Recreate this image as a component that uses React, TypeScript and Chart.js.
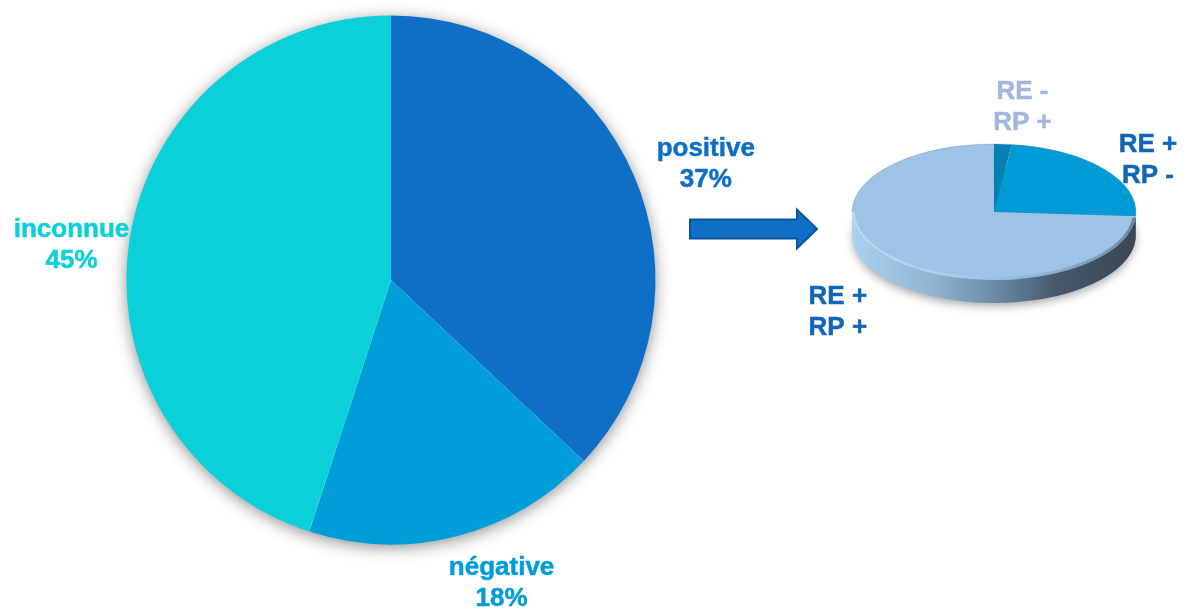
import React, { useEffect, useRef } from "react";
import { Chart, registerables } from "chart.js";

Chart.register(...registerables);

// ---- data ----
const mainCategories = ["positive", "négative", "inconnue"];
const mainValues = [37, 18, 45];
const mainColors = ["#0F6FC6", "#009DD9", "#0BD0D9"];

const subCategories = [["RE -", "RP +"], ["RE +", "RP -"], ["RE +", "RP +"]];
const subValues = [2, 24, 74];
const subColors = ["#0580B2", "#009AD6", "#9DC3E6"];
const subLabelColors = ["#A4B6E0", "#1266B8", "#1266B8"];

const FONT = 'bold 26px "Liberation Sans", Arial, sans-serif';
const LINE_H = 31;

// label anchors relative to the pie centre, in units of the radius
const mainLabelOffsets = [
  [1.19, -0.445],
  [0.418, 1.138],
  [-1.208, -0.139],
];
const subLabelOffsets = [
  [0.2, -0.755],
  [1.084, -0.38],
  [-1.1, 0.69],
];

const labelPlugin = {
  id: "blockLabels",
  afterDraw(chart: any, _args: any, opts: any) {
    const arcs = chart.getDatasetMeta(0).data;
    if (!arcs.length) return;
    const p = arcs[0].getProps(["x", "y", "outerRadius"], true);
    const ctx = chart.ctx;
    ctx.save();
    ctx.font = FONT;
    ctx.textAlign = "center";
    ctx.textBaseline = "alphabetic";
    opts.items.forEach((it: any) => {
      const ax = p.x + it.off[0] * p.outerRadius;
      const ay = p.y + it.off[1] * p.outerRadius;
      ctx.fillStyle = it.color;
      ctx.strokeStyle = it.color;
      ctx.lineWidth = 0.5;
      const n = it.lines.length;
      it.lines.forEach((ln: string, i: number) => {
        const y = ay + (i - (n - 1) / 2) * LINE_H + 9.3;
        ctx.fillText(ln, ax, y);
        ctx.strokeText(ln, ax, y);
      });
    });
    ctx.restore();
  },
};

const shadowPlugin = {
  id: "pieShadow",
  beforeDatasetsDraw(chart: any) {
    const arcs = chart.getDatasetMeta(0).data;
    if (!arcs.length) return;
    const p = arcs[0].getProps(["x", "y", "outerRadius"], true);
    const ctx = chart.ctx;
    ctx.save();
    ctx.shadowColor = "rgba(0,0,0,0.45)";
    ctx.shadowBlur = 16;
    ctx.shadowOffsetY = 3;
    ctx.beginPath();
    ctx.arc(p.x, p.y, p.outerRadius - 0.5, 0, Math.PI * 2);
    ctx.fillStyle = "#ffffff";
    ctx.fill();
    ctx.restore();
  },
};

const arrowPlugin = {
  id: "arrow",
  afterDraw(chart: any) {
    const ctx = chart.ctx;
    ctx.save();
    ctx.beginPath();
    ctx.moveTo(690, 219.5);
    ctx.lineTo(797, 219.5);
    ctx.lineTo(797, 209.5);
    ctx.lineTo(817, 229);
    ctx.lineTo(797, 248.5);
    ctx.lineTo(797, 238.5);
    ctx.lineTo(690, 238.5);
    ctx.closePath();
    ctx.fillStyle = "#0F6FC6";
    ctx.fill();
    ctx.lineWidth = 2;
    ctx.strokeStyle = "#0B539A";
    ctx.stroke();
    ctx.restore();
  },
};

const pie3dPlugin = {
  id: "pie3d",
  beforeDatasetsDraw(chart: any, _args: any, opts: any) {
    const arcs = chart.getDatasetMeta(0).data;
    if (!arcs.length) return;
    const p = arcs[0].getProps(["x", "y", "outerRadius"], true);
    const cx = p.x, cy = p.y, r = p.outerRadius;
    const ry = r * opts.tilt;
    const T = opts.depth;
    const ctx = chart.ctx;
    // soft shadow under the disc
    ctx.save();
    ctx.shadowColor = "rgba(0,0,0,0.35)";
    ctx.shadowBlur = 10;
    ctx.shadowOffsetY = 4;
    ctx.beginPath();
    ctx.ellipse(cx, cy + T, r - 1, ry - 1, 0, 0, Math.PI * 2);
    ctx.fillStyle = "#6d7f90";
    ctx.fill();
    ctx.restore();
    // side walls
    arcs.forEach((arc: any, i: number) => {
      const a = arc.getProps(["startAngle", "endAngle"], true);
      const a0 = Math.max(a.startAngle, 0);
      const a1 = Math.min(a.endAngle, Math.PI);
      if (a1 <= a0) return;
      ctx.beginPath();
      ctx.ellipse(cx, cy, r, ry, 0, a0, a1);
      ctx.ellipse(cx, cy + T, r, ry, 0, a1, a0, true);
      ctx.closePath();
      const g = ctx.createLinearGradient(cx - r, 0, cx + r, 0);
      opts.sides[i].forEach((s: [number, string]) => g.addColorStop(s[0], s[1]));
      ctx.fillStyle = g;
      ctx.fill();
    });
    ctx.save();
    ctx.translate(0, cy);
    ctx.scale(1, ry / r);
    ctx.translate(0, -cy);
  },
  afterDatasetsDraw(chart: any, _args: any, opts: any) {
    const ctx = chart.ctx;
    ctx.restore();
    const arcs = chart.getDatasetMeta(0).data;
    if (!arcs.length) return;
    const p = arcs[0].getProps(["x", "y", "outerRadius"], true);
    const cx = p.x, cy = p.y, r = p.outerRadius;
    const ry = r * opts.tilt;
    // soft bevel on the front rim of the top face
    const last = arcs[arcs.length - 1].getProps(["startAngle"], true);
    const g = ctx.createLinearGradient(cx - r, 0, cx + r, 0);
    g.addColorStop(0, "rgba(200,232,255,0.6)");
    g.addColorStop(0.35, "rgba(185,220,248,0.45)");
    g.addColorStop(0.65, "rgba(120,150,180,0.3)");
    g.addColorStop(1, "rgba(60,80,100,0.55)");
    ctx.save();
    ctx.beginPath();
    ctx.ellipse(cx, cy, r - 1.5, ry - 1.5, 0, Math.max(last.startAngle, 0) + 0.02, Math.PI);
    ctx.lineWidth = 3;
    ctx.strokeStyle = g;
    ctx.stroke();
    // faint outline around the back rim
    ctx.beginPath();
    ctx.ellipse(cx, cy, r, ry, 0, Math.PI, Math.PI * 2);
    ctx.lineWidth = 0.8;
    ctx.strokeStyle = "rgba(90,110,130,0.35)";
    ctx.stroke();
    ctx.restore();
  },
};

export default function App() {
  const mainRef = useRef<HTMLCanvasElement>(null);
  const subRef = useRef<HTMLCanvasElement>(null);

  useEffect(() => {
    const main = new Chart(mainRef.current as HTMLCanvasElement, {
      type: "pie",
      data: {
        labels: mainCategories,
        datasets: [
          {
            data: mainValues,
            backgroundColor: mainColors,
            borderWidth: 0,
          },
        ],
      },
      options: {
        responsive: false,
        animation: false,
        layout: { padding: { left: 126.5, right: 531.5, top: 15.5, bottom: 65.5 } },
        plugins: {
          legend: { display: false },
          tooltip: { enabled: false },
          blockLabels: {
            items: mainCategories.map((c, i) => ({
              lines: [c, mainValues[i] + "%"],
              color: mainColors[i],
              off: mainLabelOffsets[i],
            })),
          },
        } as any,
      },
      plugins: [shadowPlugin, arrowPlugin, labelPlugin],
    });

    const sub = new Chart(subRef.current as HTMLCanvasElement, {
      type: "pie",
      data: {
        labels: subCategories.map((c) => c.join(" ")),
        datasets: [
          {
            data: subValues,
            backgroundColor: subColors,
            borderWidth: 0,
          },
        ],
      },
      options: {
        responsive: false,
        animation: false,
        layout: { padding: { left: 852, right: 51, top: 70, bottom: 256 } },
        plugins: {
          legend: { display: false },
          tooltip: { enabled: false },
          pie3d: {
            tilt: 68 / 142,
            depth: 23,
            sides: [
              [[0, "#00577f"], [1, "#00577f"]],
              [[0, "#004a6e"], [1, "#004a6e"]],
              [
                [0, "#a9d2f2"],
                [0.3, "#8fb2d0"],
                [0.55, "#63809b"],
                [0.72, "#46586b"],
                [1, "#3a4754"],
              ],
            ],
          },
          blockLabels: {
            items: subCategories.map((c, i) => ({
              lines: c,
              color: subLabelColors[i],
              off: subLabelOffsets[i],
            })),
          },
        } as any,
      },
      plugins: [pie3dPlugin, labelPlugin],
    });

    return () => {
      main.destroy();
      sub.destroy();
    };
  }, []);

  return (
    <div
      style={{
        position: "fixed",
        left: 0,
        top: 0,
        width: 1187,
        height: 610,
        background: "#ffffff",
        overflow: "hidden",
      }}
    >
      <canvas
        ref={mainRef}
        width={1187}
        height={610}
        style={{ position: "absolute", left: 0, top: 0, width: 1187, height: 610 }}
      />
      <canvas
        ref={subRef}
        width={1187}
        height={610}
        style={{ position: "absolute", left: 0, top: 0, width: 1187, height: 610 }}
      />
    </div>
  );
}
